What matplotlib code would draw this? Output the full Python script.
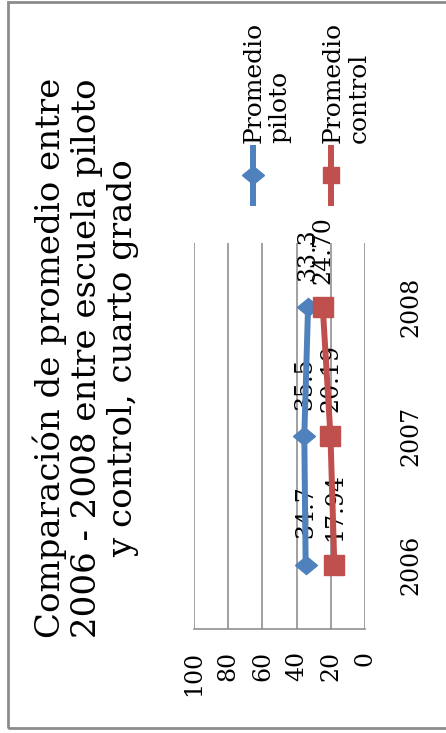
"""
Promedio piloto vs control, cuarto grado (2006-2008), drawn in portrait
with the whole chart turned a quarter turn.
"""

from matplotlib import pyplot as plt
from matplotlib.lines import Line2D
from matplotlib.markers import MarkerStyle
from matplotlib.patches import Rectangle
from matplotlib.transforms import Affine2D

years = ["2006", "2007", "2008"]
piloto = [34.7, 35.5, 33.3]
control = [17.94, 20.19, 24.70]
piloto_labels = ["34.7", "35.5", "33.3"]
control_labels = ["17.94", "20.19", "24.70"]
value_ticks = [0, 20, 40, 60, 80, 100]

title = "Comparación de promedio entre\n2006 - 2008 entre escuela piloto\ny control, cuarto grado"

BLUE = "#4F81BD"
RED = "#C0504D"
GRID = "#868686"

plt.rcParams["font.family"] = ["DejaVu Serif"]

fig = plt.figure(figsize=(4.46, 7.33), dpi=100)
W, H = 446, 733


def fx(px):
    return px / W


def fy(py):
    return 1 - py / H


diamond = MarkerStyle("D", transform=Affine2D().scale(1.1, 0.85))

ax = fig.add_axes([fx(194), fy(629), fx(365) - fx(194), fy(243) - fy(629)])
pos = list(range(1, len(years) + 1))

ax.plot(piloto, pos, color=BLUE, lw=4.3, marker=diamond, ms=10.5, zorder=3)
ax.plot(control, pos, color=RED, lw=4.3, marker="s", ms=14.5, zorder=4)

for v, p, s in zip(piloto, pos, piloto_labels):
    ax.annotate(s, (v, p), xytext=(0, 19), textcoords="offset points",
                rotation=90, ha="center", va="bottom", fontsize=17, zorder=1)
for v, p, s in zip(control, pos, control_labels):
    ax.annotate(s, (v, p), xytext=(0, 17), textcoords="offset points",
                rotation=90, ha="center", va="bottom", fontsize=17, zorder=1)

ax.set_xlim(100, 0)
ax.set_ylim(0.5, len(years) + 0.5)
ax.set_xticks(value_ticks)
ax.grid(axis="x", color=GRID, lw=1.1)
ax.set_axisbelow(True)
for side in ("top", "right", "left"):
    ax.spines[side].set_visible(False)
ax.spines["bottom"].set_color(GRID)
ax.spines["bottom"].set_linewidth(1.1)
ax.tick_params(axis="x", length=0, pad=16, labelsize=17, labelrotation=90)

ax.yaxis.tick_right()
ax.set_yticks(pos, years)
ax.tick_params(axis="y", length=0, pad=25, labelsize=17, labelrotation=90)
for lbl in ax.get_yticklabels():
    lbl.set_va("center")
    lbl.set_ha("left")

fig.text(fx(86), fy(358), title, rotation=90, ha="center", va="center",
         multialignment="center", fontsize=24.5, linespacing=1.15)

# legend entries
for x_line, x_text, color, marker, ms, label in [
        (253, 243, BLUE, diamond, 10.5, "Promedio\npiloto"),
        (331, 322, RED, "s", 12, "Promedio\ncontrol")]:
    fig.add_artist(Line2D([fx(x_line)] * 3, [fy(148), fy(175), fy(203)],
                          transform=fig.transFigure, color=color, lw=4.3,
                          marker=marker, ms=ms, markevery=[1]))
    fig.text(fx(x_text), fy(143), label, rotation=90, ha="left", va="bottom",
             multialignment="left", fontsize=18, linespacing=1.15)

fig.add_artist(Rectangle((fx(7.5), fy(728)), 1.2, fy(2) - fy(728),
                         transform=fig.transFigure, fill=False,
                         ec="#8c8c8c", lw=2))

fig.savefig("out.png", dpi=100)
